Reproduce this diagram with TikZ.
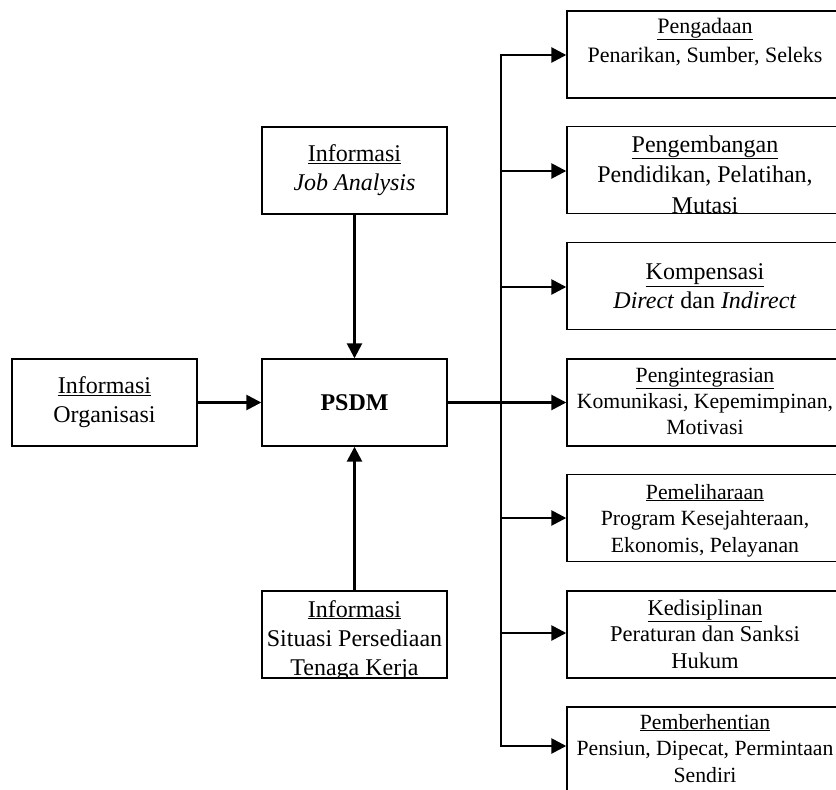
\documentclass[tikz,border=0pt]{standalone}
\usepackage{fontspec}
\setmainfont{Liberation Serif}
\usetikzlibrary{arrows.meta}
% underlined heading and a top-aligned stack of centred lines
\newcommand\hd[1]{\underline{#1}}
\newcommand\lines[1]{\begin{tabular}[t]{@{}c@{}}#1\end{tabular}}
\tikzset{
  box/.style={draw, line width=1.4pt, inner sep=0pt, align=center},
  cbox/.style={box, minimum width=185pt, minimum height=87pt},
  rbox/.style={box, minimum width=276pt, minimum height=87pt},
  big/.style={font=\fontsize{24}{29}\selectfont},
  small/.style={font=\fontsize{21.7}{26.5}\selectfont},
  txt/.style={inner sep=0pt, anchor=base},
  arr/.style={line width=2.6pt, -{Triangle[length=15pt,width=15pt]}},
  trunk/.style={line width=1.9pt, line cap=rect},
}
\begin{document}
\begin{tikzpicture}[x=1pt, y=-1pt]
\useasboundingbox (0,0) rectangle (836,790);
\clip (0,0) rectangle (836,790);

% input boxes and the central PSDM box
\node[cbox, big] (org) at (104.5,402.5) {\hd{Informasi}\\Organisasi};
\node[cbox, big] (job) at (354.5,170.5) {\hd{Informasi}\\\textit{Job Analysis}};
\node[cbox, font=\fontsize{24}{29}\selectfont\bfseries] (psdm) at (354.5,402.5) {PSDM};
\node[cbox] (sit) at (354.5,634.5) {};
\begin{scope}
  \clip (sit.south west) rectangle (sit.north east);
  \node[txt, big] (sitt) at (354.5,617) {\lines{\hd{Informasi}\\Situasi Persediaan\\Tenaga Kerja}};
\end{scope}

% function boxes on the right
\node[rbox] (b1) at (705,54.5) {};
\node[rbox] (b2) at (705,170) {};
\node[rbox, big] (b3) at (705,286) {\hd{Kompensasi}\\\textit{Direct} dan \textit{Indirect}};
\node[rbox] (b4) at (705,402.5) {};
\node[rbox] (b5) at (705,518) {};
\node[rbox] (b6) at (705,634.5) {};
\node[rbox] (b7) at (705,750.5) {};

\begin{scope}
  \clip (b1.south west) rectangle (b1.north east);
  \node[txt, font=\fontsize{22}{29}\selectfont] (b1t) at (705,33) {\lines{\hd{Pengadaan}\\Penarikan, Sumber, Seleks}};
\end{scope}
\begin{scope}
  \clip (b2.south west) rectangle (b2.north east);
  \node[txt, font=\fontsize{24}{30.5}\selectfont] (b2t) at (705,152) {\lines{\hd{Pengembangan}\\Pendidikan, Pelatihan,\\Mutasi}};
\end{scope}
\begin{scope}
  \clip (b4.south west) rectangle (b4.north east);
  \node[txt, font=\fontsize{21.7}{26}\selectfont] (b4t) at (705,382) {\lines{\hd{Pengintegrasian}\\Komunikasi, Kepemimpinan,\\Motivasi}};
\end{scope}
\begin{scope}
  \clip (b5.south west) rectangle (b5.north east);
  \node[txt, small] (b5t) at (705,499) {\lines{\hd{Pemeliharaan}\\Program Kesejahteraan,\\Ekonomis, Pelayanan}};
\end{scope}
\begin{scope}
  \clip (b6.south west) rectangle (b6.north east);
  \node[txt, font=\fontsize{22.5}{26.5}\selectfont] (b6t) at (705,615) {\lines{\hd{Kedisiplinan}\\Peraturan dan Sanksi\\Hukum}};
\end{scope}
\begin{scope}
  \clip (b7.south west) rectangle (b7.north east);
  \node[txt, small] (b7t) at (705,729) {\lines{\hd{Pemberhentian}\\Pensiun, Dipecat, Permintaan\\Sendiri}};
\end{scope}

% arrows into PSDM and out to Pengintegrasian
\draw[arr] (job) -- (psdm);
\draw[arr] (sit) -- (psdm);
\draw[arr] (org) -- (psdm);
\draw[arr] (psdm) -- (b4);

% distribution trunk and its branches
\coordinate (t1) at (501,55);
\coordinate (t2) at (501,171);
\coordinate (t3) at (501,287);
\coordinate (t5) at (501,518);
\coordinate (t6) at (501,633);
\coordinate (t7) at (501,746);
\draw[trunk] (t1) -- (t7);
\foreach \i in {1,2,3,5,6,7}
  \draw[arr] (t\i) -- (t\i -| b\i.west);
\end{tikzpicture}
\end{document}
